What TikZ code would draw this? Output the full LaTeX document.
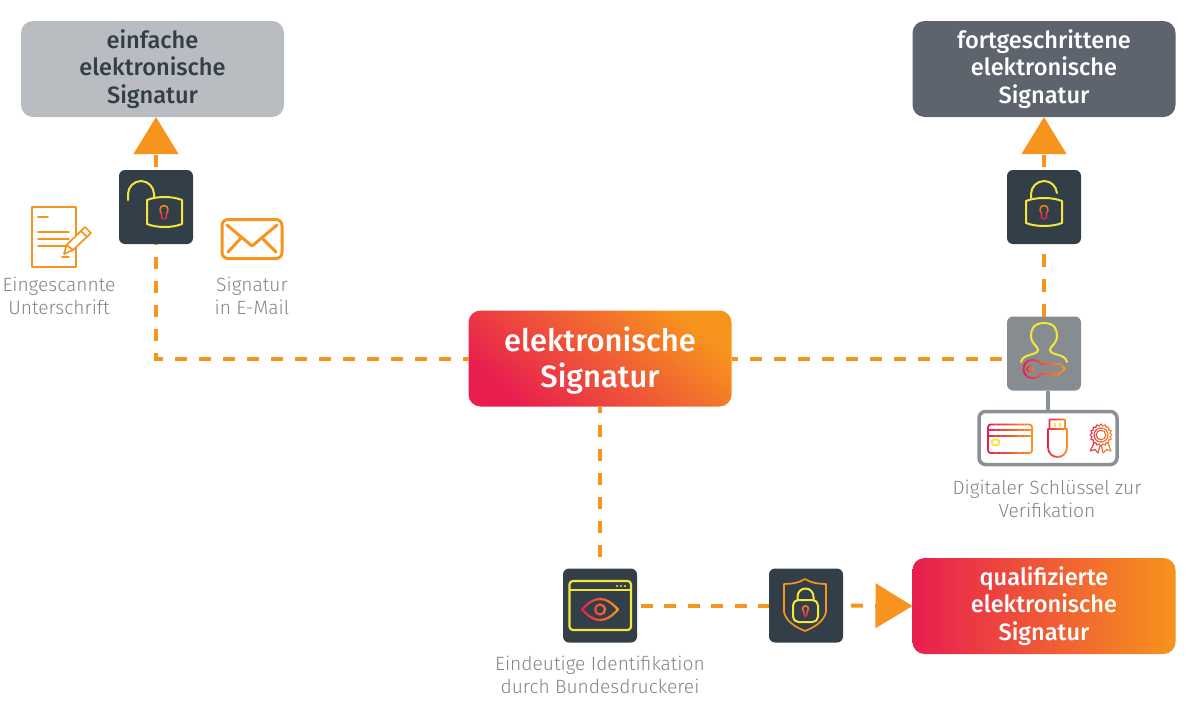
\documentclass[tikz,border=0pt]{standalone}
\usepackage{fontspec}
\setmainfont{Fira Sans Light}
\newfontfamily\medfont{Fira Sans Medium}
\usetikzlibrary{arrows.meta,calc}
\definecolor{orng}{HTML}{F7941D}
\definecolor{crim}{HTML}{E81E4F}
\definecolor{dark}{HTML}{323E48}
\definecolor{iconyel}{HTML}{F5E63C}
\definecolor{lgrey}{HTML}{B9BCC1}
\definecolor{dgrey}{HTML}{5D646D}
\definecolor{midgrey}{HTML}{878C91}
\definecolor{captxt}{HTML}{7E858C}
\definecolor{linegrey}{HTML}{8A9097}
\def\px{0.75pt}
\def\gw{1.8}
% gradient strokes: bands clipped across the bounding range of a path
\newcommand{\gradH}[5]{% x0 x1 y0 y1 path (crim left -> orng right)
  \foreach \gi in {0,...,9}{%
    \pgfmathsetmacro{\gp}{100-\gi*100/9}%
    \pgfmathsetmacro{\ga}{#1+(#2-#1)*\gi/10-0.1}%
    \pgfmathsetmacro{\gb}{#1+(#2-#1)*(\gi+1)/10+0.1}%
    \begin{scope}
      \clip (\ga,#3) rectangle (\gb,#4);
      \draw[line width=\gw*\px,line join=round,line cap=round,color=crim!\gp!orng] #5;
    \end{scope}}}
\newcommand{\gradV}[5]{% x0 x1 y0 y1 path (orng top -> crim bottom)
  \foreach \gi in {0,...,6}{%
    \pgfmathsetmacro{\gp}{\gi*100/6}%
    \pgfmathsetmacro{\ga}{#3+(#4-#3)*\gi/7-0.1}%
    \pgfmathsetmacro{\gb}{#3+(#4-#3)*(\gi+1)/7+0.1}%
    \begin{scope}
      \clip (#1,\ga) rectangle (#2,\gb);
      \draw[line width=\gw*\px,line join=round,line cap=round,color=crim!\gp!orng] #5;
    \end{scope}}}
\tikzset{
  every node/.style={inner sep=0pt,outer sep=0pt},
  bigbox/.style={minimum width=263*\px,minimum height=96*\px,rounded corners=9pt,align=center,font=\medfont\fontsize{17.7pt}{20.8pt}\selectfont},
  iconbox/.style={minimum width=74*\px,minimum height=74*\px,rounded corners=4.5pt,fill=dark},
  caption/.style={text=captxt,align=center,font=\fontsize{14.4pt}{17pt}\selectfont},
  conn/.style={draw=orng,line width=4*\px,dash pattern=on 9pt off 9pt},
  tip/.style={-{Triangle[length=27.75pt,width=33pt]}},
  ylw/.style={draw=iconyel,line width=2*\px,line join=round,line cap=round},
  org/.style={draw=orng,line width=1.7*\px,line join=round,line cap=round},
}
\begin{document}
\begin{tikzpicture}[x=0.75pt,y=-0.75pt]
\useasboundingbox (0,0) rectangle (1200,714);

% big boxes
\node[bigbox,fill=lgrey,text=dark] (simple) at (152.5,69) {einfache\\elektronische\\Signatur};
\node[bigbox,fill=dgrey,text=white] (adv) at (1044,69) {fortgeschrittene\\elektronische\\Signatur};
\node[bigbox,text=white,left color=crim,right color=orng,shading angle=140,font=\medfont\fontsize{23.2pt}{26.3pt}\selectfont] (center) at (600,358.5) {\rule{0pt}{21.5pt}elektronische\\Signatur};
\node[bigbox,text=white,left color=crim,right color=orng] (qual) at (1044,606) {qualifizierte\\elektronische\\Signatur};

% icon boxes
\node[iconbox] (lockA) at (156,207) {};
\node[iconbox] (lockB) at (1044,207) {};
\node[iconbox,fill=midgrey] (user) at (1044,353.5) {};
\node[iconbox] (eye) at (600,605.5) {};
\node[iconbox] (shield) at (806,605.5) {};
\node[minimum width=138*\px,minimum height=53*\px,rounded corners=5pt,draw=linegrey,line width=3.5*\px] (keys) at (1048,438) {};

% connectors
\draw[conn,dash phase=4.5pt] (center.west) -| (lockA.south);
\draw[conn,tip,dash phase=15.5pt] (lockA.north) -- (lockA.north |- simple.south);
\draw[conn,dash phase=4.5pt] (center.east) -- (center.east -| user.west);
\draw[conn,dash pattern=on 9.6pt off 9pt,dash phase=0pt] (user.north) -- (lockB.south);
\draw[conn,tip,dash phase=15.5pt] (lockB.north) -- (adv.south);
\draw[conn,dash phase=4.5pt] (center.south) -- (eye.north);
\draw[conn,dash pattern=on 9pt off 8.55pt,dash phase=14.5pt] (eye.east) -- (shield.west);
\draw[conn,tip,dash phase=12pt] (shield.east) -- (qual.west);
\draw[draw=linegrey,line width=4*\px] (keys.north) -- (keys.north |- user.south);

% captions
\node[caption] (capA) at (59,296) {Eingescannte\\Unterschrift};
\node[caption] (capB) at (252,296) {Signatur\\in E-Mail};
\node[caption] (capC) at (1047,499) {Digitaler Schlüssel zur\\Verifikation};
\node[caption] (capD) at (600,675) {Eindeutige Identifikation\\durch Bundesdruckerei};

% document icon
\draw[org] (32,207) rectangle (76,267);
\foreach \yy/\xa/\xb in {217/38/48,232/38/69,239/38/69,246/38/69,257/62/69}
  \draw[org] (\xa,\yy) -- (\xb,\yy);
\draw[org,fill=white] (64,254) -- (66.5,245) -- (85,227) -- (91,233) -- (73,250) -- cycle;
\draw[org] (66.5,245) -- (73,250) (81,231) -- (87,237);

% envelope icon
\draw[draw=orng,line width=3*\px,rounded corners=4.5pt] (222,219.5) rectangle (282,258.5);
\draw[draw=orng,line width=3*\px,line cap=round,line join=round]
  (227,225) -- (252,246) -- (277,225) (228,252) -- (241,238) (276,252) -- (262,238);

% open lock A
\draw[ylw] (154,198) -- (154,194) .. controls (154,187) and (148,181) .. (141,181)
  .. controls (134,181) and (128,187) .. (128,194) -- (128,200);
\draw[ylw] (147,200) .. controls (157,196) and (172,196) .. (182,200) -- (182,224)
  .. controls (172,228) and (157,228) .. (147,224) -- cycle;
\def\gw{1.4}
\gradV{158}{170}{204}{221}{(164,205.5) .. controls (166.2,205.5) and (168,207.3) .. (168,209.5) .. controls (168,211.5) and (167,212.5) .. (166.5,213.5) -- (166.5,217) .. controls (166.5,219.5) and (161.5,219.5) .. (161.5,217) -- (161.5,213.5) .. controls (161,212.5) and (160,211.5) .. (160,209.5) .. controls (160,207.3) and (161.8,205.5) .. (164,205.5)}

% open lock B
\draw[ylw] (1031,198) -- (1031,194) .. controls (1031,187) and (1037,181) .. (1044,181)
  .. controls (1051,181) and (1056,186) .. (1057,193);
\draw[ylw] (1026,201) .. controls (1036,197) and (1052,197) .. (1062,201) -- (1062,223)
  .. controls (1052,227) and (1036,227) .. (1026,223) -- cycle;
\gradV{1038}{1050}{203}{220}{(1044,205.5) .. controls (1046.2,205.5) and (1048,207.3) .. (1048,209.5) .. controls (1048,211.5) and (1047,212.5) .. (1046.5,213.5) -- (1046.5,217) .. controls (1046.5,219.5) and (1041.5,219.5) .. (1041.5,217) -- (1041.5,213.5) .. controls (1041,212.5) and (1040,211.5) .. (1040,209.5) .. controls (1040,207.3) and (1041.8,205.5) .. (1044,205.5)}
\def\gw{1.8}

% user with key
\draw[ylw] (1021,362) .. controls (1023,353) and (1037,356) .. (1038,350)
  .. controls (1038,346) and (1031,344) .. (1031,336)
  .. controls (1031,330) and (1033,323) .. (1044,323)
  .. controls (1055,323) and (1057,330) .. (1057,336)
  .. controls (1057,344) and (1050,346) .. (1050,350)
  .. controls (1051,356) and (1065,353) .. (1067,362);
\gradH{1022}{1067}{358}{381}{(1041,364) .. controls (1039,361) and (1036,360) .. (1032,360) .. controls (1027,360) and (1023.5,364) .. (1023.5,369) .. controls (1023.5,374) and (1027,378) .. (1032,378) .. controls (1036,378) and (1039,377) .. (1041,374) -- (1047,373) -- (1050,375) -- (1052,373) -- (1054,375) -- (1056,373) -- (1058,375) -- (1060,373) -- (1065,369) -- (1060,364) -- cycle}
\gradH{1025}{1036}{364}{374}{(1030,369) circle[radius=3]}

% credential icons
\gradH{986}{1034}{422}{455}{[rounded corners=2pt] (988,424.5) rectangle (1032,453) (988,430) -- (1032,430) (988,436) -- (1032,436)}
\draw[ylw,rounded corners=1pt] (992,439.5) rectangle (999,445);
\gradH{1046}{1069}{417}{459}{(1049.5,429) -- (1049.5,419.5) -- (1065,419.5) -- (1065,429) (1048,429) -- (1067,429) -- (1067,447) .. controls (1067,453) and (1063,457) .. (1057.5,457) .. controls (1052,457) and (1048,453) .. (1048,447) -- cycle}
\draw[ylw,line width=2*\px,line cap=butt] (1054.5,423) -- (1054.5,427) (1059.5,423) -- (1059.5,427);
\def\gw{1.1}
\gradH{1088}{1114}{423}{455}{plot[domain=0:360,samples=121,smooth] ({1101+(10+0.9*cos(16*\x))*cos(\x)},{435+(10+0.9*cos(16*\x))*sin(\x)}) (1101,435) circle[radius=7] (1101,435) circle[radius=4.8] (1094,443) -- (1090,451) -- (1095,449.5) -- (1098,453) -- (1100,446) (1108,443) -- (1111,451) -- (1107,449.5) -- (1103,453) -- (1101.5,446)}
\def\gw{2.2}

% browser with eye
\draw[ylw,line width=2.2*\px,rounded corners=2.5pt] (569.5,581) rectangle (631,630);
\draw[ylw,line width=2*\px] (570,589.5) -- (630,589.5);
\foreach \dx in {617,621,625} \fill[iconyel] (\dx,586) circle[radius=1.1];
\gradH{580}{620}{597}{622}{(582,609.5) .. controls (589,602) and (594,599) .. (600,599) .. controls (606,599) and (611,602) .. (618,609.5) .. controls (611,617) and (606,620) .. (600,620) .. controls (594,620) and (589,617) .. (582,609.5) -- cycle (600,609.5) circle[radius=5]}
\def\gw{1.4}

% shield with lock
\draw[org] (805,579) .. controls (799,583) and (791,584) .. (784,584) -- (784,612)
  .. controls (786,621) and (795,627) .. (805,631)
  .. controls (815,627) and (824,621) .. (826,612) -- (826,584)
  .. controls (819,584) and (811,583) .. (805,579) -- cycle;
\draw[ylw,rounded corners=4pt] (793,600) rectangle (818,622);
\draw[ylw] (797.5,600) -- (797.5,597) .. controls (797.5,592) and (801,588.5) .. (805.5,588.5)
  .. controls (810,588.5) and (813.5,592) .. (813.5,597) -- (813.5,600);
\gradV{800}{811}{604}{618}{(805.5,606) .. controls (807,606) and (808.5,607) .. (808.5,609) .. controls (808.5,610.5) and (807.5,611) .. (807,612) -- (806.5,616) -- (804.5,616) -- (804,612) .. controls (803.5,611) and (802.5,610.5) .. (802.5,609) .. controls (802.5,607) and (804,606) .. (805.5,606)}
\end{tikzpicture}
\end{document}
